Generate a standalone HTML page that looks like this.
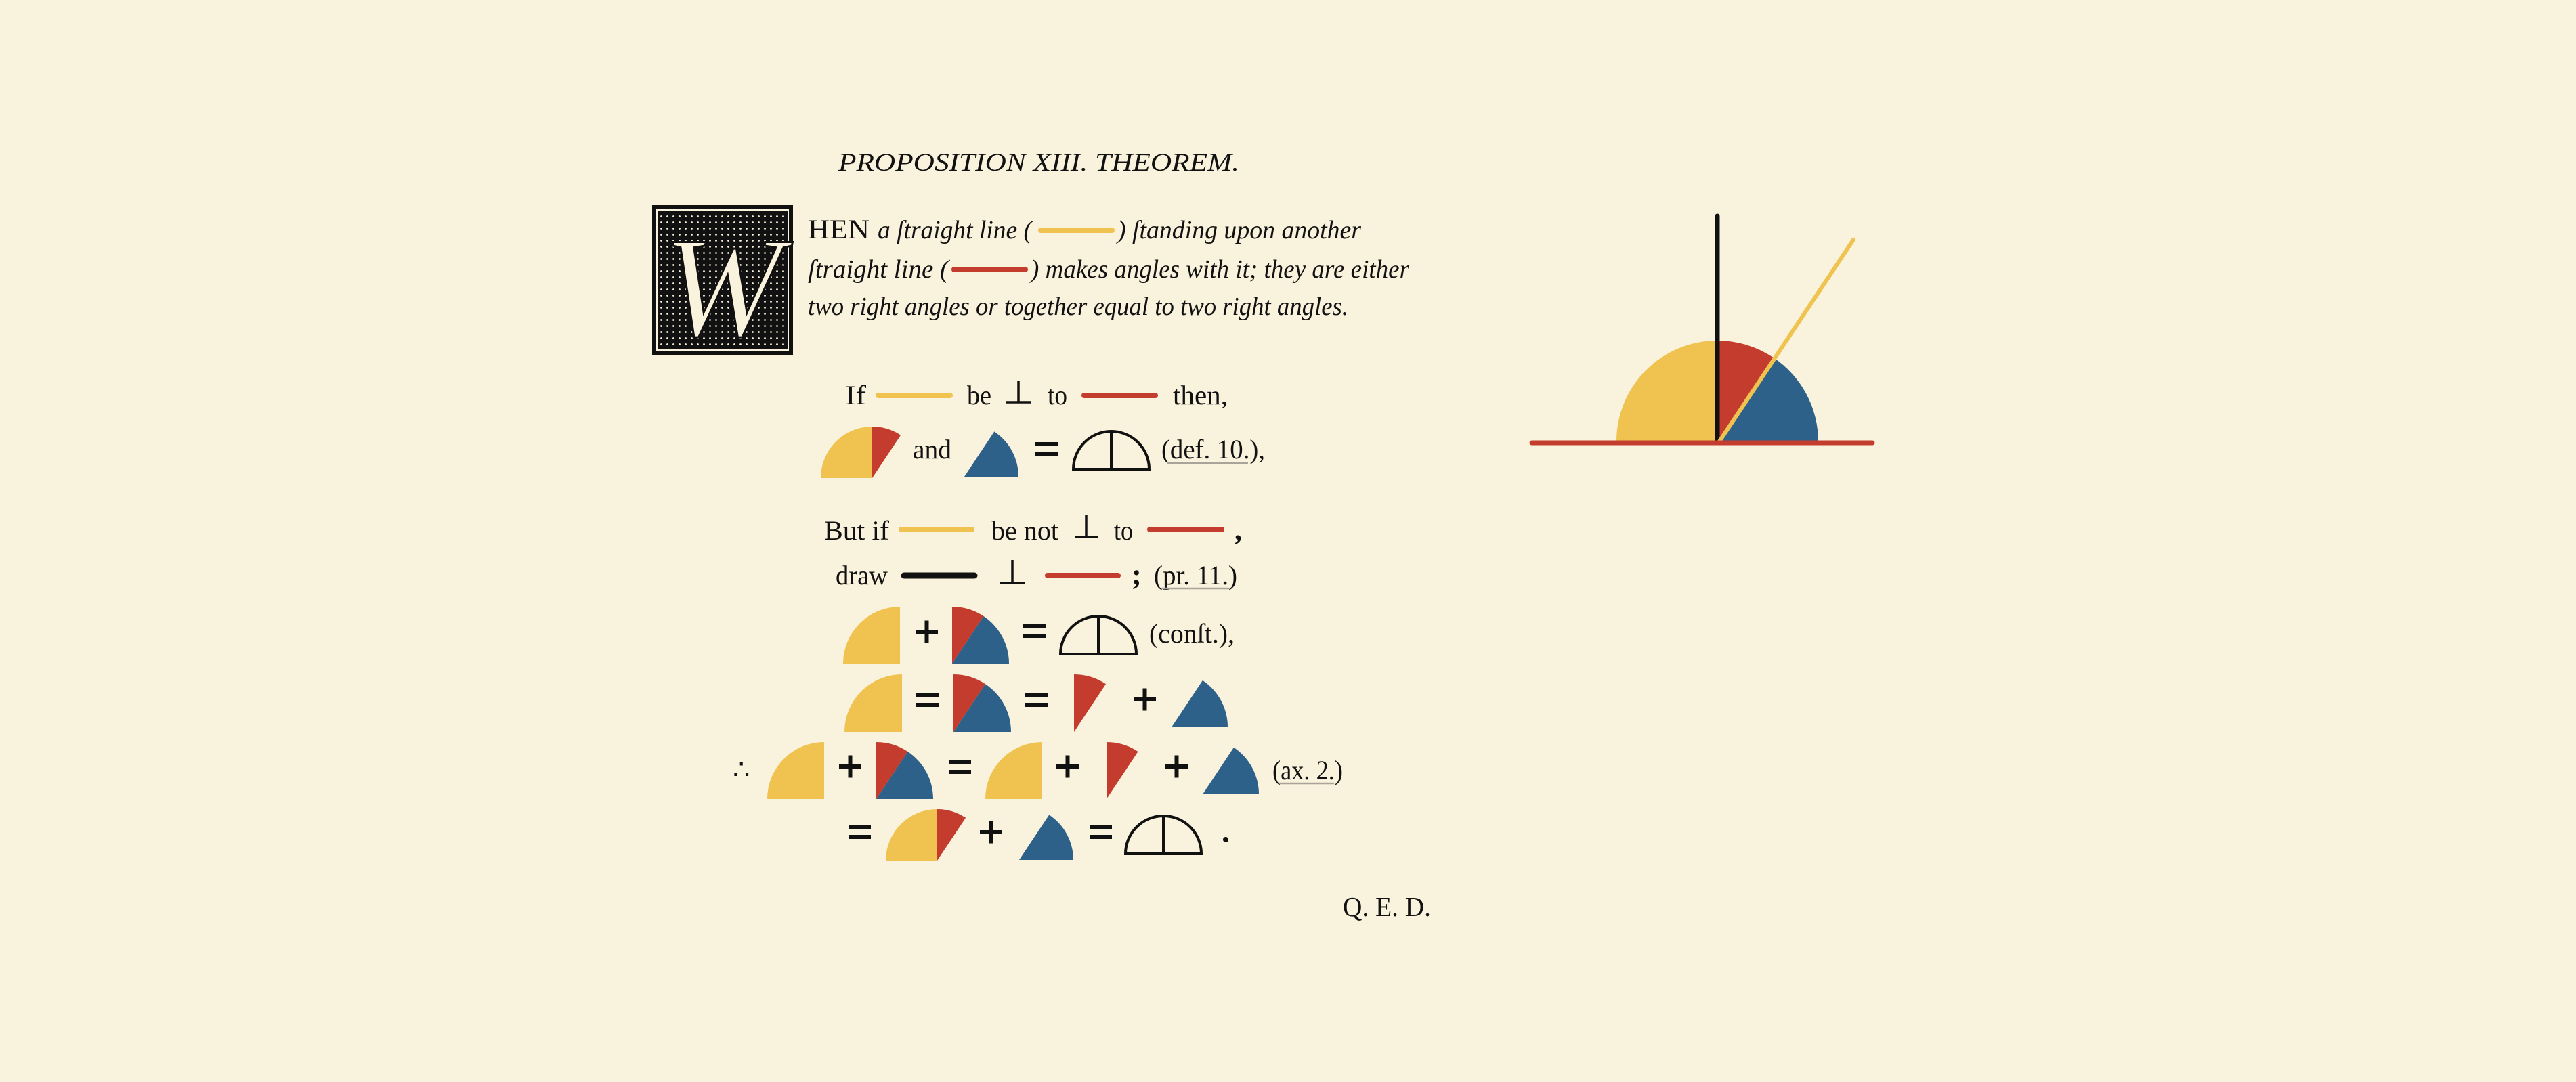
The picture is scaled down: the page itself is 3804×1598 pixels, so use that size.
<!DOCTYPE html>
<html><head><meta charset="utf-8"><style>
html,body{margin:0;padding:0;background:#f9f2dc;}
svg{display:block;}
text{font-family:"Liberation Serif",serif;fill:#111;}
.it{font-style:italic;}
</style></head><body>
<svg id="page" width="3804" height="1598" viewBox="0 0 3804 1598" xmlns="http://www.w3.org/2000/svg">
<defs>
<pattern id="dots" width="9" height="9" patternUnits="userSpaceOnUse"><circle cx="4.5" cy="4.5" r="1.4" fill="#f9f2dc"/></pattern>
</defs>
<rect width="3804" height="1598" fill="#f9f2dc"/>

<text class="it" x="1238" y="252" font-size="37" textLength="592" lengthAdjust="spacingAndGlyphs">PROPOSITION XIII. THEOREM.</text>

<g>
<rect x="963" y="303" width="208" height="221" fill="#111"/>
<rect x="970" y="310" width="194" height="207" fill="none" stroke="#f9f2dc" stroke-width="2"/>
<rect x="974" y="314" width="186" height="199" fill="url(#dots)"/>
<text x="1067" y="495" font-size="210" text-anchor="middle" style="fill:#f9f2dc;font-style:italic" stroke="#111" stroke-width="3">W</text>
</g>

<g>
<text x="1193" y="352" font-size="40" textLength="91" lengthAdjust="spacingAndGlyphs">HEN</text>
<text class="it" x="1296" y="352" font-size="38" textLength="228" lengthAdjust="spacingAndGlyphs">a ſtraight line (</text>
<line x1="1537" y1="340" x2="1642" y2="340" stroke="#f0c350" stroke-width="8" stroke-linecap="round"/>
<text class="it" x="1650" y="352" font-size="38" textLength="360" lengthAdjust="spacingAndGlyphs">) ſtanding upon another</text>
<text class="it" x="1193" y="410" font-size="38" textLength="208" lengthAdjust="spacingAndGlyphs">ſtraight line (</text>
<line x1="1409" y1="398" x2="1514" y2="398" stroke="#c33c2d" stroke-width="8" stroke-linecap="round"/>
<text class="it" x="1522" y="410" font-size="38" textLength="559" lengthAdjust="spacingAndGlyphs">) makes angles with it; they are either</text>
<text class="it" x="1193" y="465" font-size="38" textLength="798" lengthAdjust="spacingAndGlyphs">two right angles or together equal to two right angles.</text>
</g>

<g>
<text x="1248" y="597" font-size="40" textLength="31" lengthAdjust="spacingAndGlyphs">If</text>
<line x1="1297" y1="584" x2="1403" y2="584" stroke="#f0c350" stroke-width="8" stroke-linecap="round"/>
<text x="1428" y="597" font-size="40" textLength="36" lengthAdjust="spacingAndGlyphs">be</text>
<path d="M1504 562 V594 M1486 594 H1522" stroke="#111" stroke-width="3.5" fill="none"/>
<text x="1547" y="597" font-size="40" textLength="29" lengthAdjust="spacingAndGlyphs">to</text>
<line x1="1601" y1="584" x2="1706" y2="584" stroke="#c33c2d" stroke-width="8" stroke-linecap="round"/>
<text x="1732" y="597" font-size="40" textLength="81" lengthAdjust="spacingAndGlyphs">then,</text>
</g>
<g>
<text x="1348" y="677" font-size="40" textLength="57" lengthAdjust="spacingAndGlyphs">and</text>
<text x="1715" y="677" font-size="40" textLength="153" lengthAdjust="spacingAndGlyphs">(def. 10.),</text>
<line x1="1723" y1="684" x2="1843" y2="684" stroke="#aaa39a" stroke-width="2.5"/>
</g>
<g>
<text x="1217" y="797" font-size="40" textLength="96" lengthAdjust="spacingAndGlyphs">But if</text>
<line x1="1331" y1="782" x2="1435" y2="782" stroke="#f0c350" stroke-width="8" stroke-linecap="round"/>
<text x="1464" y="797" font-size="40" textLength="99" lengthAdjust="spacingAndGlyphs">be not</text>
<path d="M1604 761 V793 M1587 793 H1621" stroke="#111" stroke-width="3.5" fill="none"/>
<text x="1645" y="797" font-size="40" textLength="28" lengthAdjust="spacingAndGlyphs">to</text>
<line x1="1698" y1="782" x2="1804" y2="782" stroke="#c33c2d" stroke-width="8" stroke-linecap="round"/>
<text x="1823" y="797" font-size="44" font-weight="bold">,</text>
</g>
<g>
<text x="1234" y="863" font-size="40" textLength="77" lengthAdjust="spacingAndGlyphs">draw</text>
<line x1="1335" y1="850" x2="1439" y2="850" stroke="#111" stroke-width="9" stroke-linecap="round"/>
<path d="M1495 827 V861 M1477 861 H1513" stroke="#111" stroke-width="3.5" fill="none"/>
<line x1="1547" y1="850" x2="1651" y2="850" stroke="#c33c2d" stroke-width="8" stroke-linecap="round"/>
<text x="1671" y="863" font-size="44" font-weight="bold">;</text>
<text x="1704" y="863" font-size="40" textLength="123" lengthAdjust="spacingAndGlyphs">(pr. 11.)</text>
<line x1="1714" y1="869" x2="1815" y2="869" stroke="#aaa39a" stroke-width="2.5"/>
</g>
<text x="1697" y="949" font-size="40" textLength="126" lengthAdjust="spacingAndGlyphs">(conſt.),</text>
<text x="1082" y="1150" font-size="40">∴</text>
<g>
<text x="1879" y="1151" font-size="40" textLength="104" lengthAdjust="spacingAndGlyphs">(ax. 2.)</text>
<line x1="1889" y1="1157" x2="1970" y2="1157" stroke="#aaa39a" stroke-width="2.5"/>
</g>
<circle cx="1810" cy="1240" r="4" fill="#111"/>
<text x="1983" y="1353" font-size="41" textLength="130" lengthAdjust="spacingAndGlyphs">Q. E. D.</text>

<g id="icons"></g>

<g id="diagram"></g>
</svg>
<script>
// angle (deg) of the oblique line above the base line
const obliqueAngle = [56.4];
const YEL = '#f0c350', RED = '#c33c2d', BLU = '#2e6189';
const NS = 'http://www.w3.org/2000/svg';
const A = obliqueAngle[0];

function sectorPath(cx, cy, r, a0, a1) {
  const rad = d => d * Math.PI / 180;
  const x0 = cx + r * Math.cos(rad(a0)), y0 = cy - r * Math.sin(rad(a0));
  const x1 = cx + r * Math.cos(rad(a1)), y1 = cy - r * Math.sin(rad(a1));
  const large = (a1 - a0) > 180 ? 1 : 0;
  return `M${cx} ${cy} L${x0} ${y0} A${r} ${r} 0 ${large} 0 ${x1} ${y1} Z`;
}
function sector(parent, cx, cy, r, a0, a1, color) {
  const p = document.createElementNS(NS, 'path');
  p.setAttribute('d', sectorPath(cx, cy, r, a0, a1));
  p.setAttribute('fill', color);
  
  
  parent.appendChild(p);
  return p;
}
function line(parent, x1, y1, x2, y2, color, w) {
  const l = document.createElementNS(NS, 'line');
  l.setAttribute('x1', x1); l.setAttribute('y1', y1);
  l.setAttribute('x2', x2); l.setAttribute('y2', y2);
  l.setAttribute('stroke', color); l.setAttribute('stroke-width', w);
  l.setAttribute('stroke-linecap', 'round');
  
  
  parent.appendChild(l);
}
function rect(parent, x, y, w, h) {
  const r = document.createElementNS(NS, 'rect');
  r.setAttribute('x', x); r.setAttribute('y', y);
  r.setAttribute('width', w); r.setAttribute('height', h);
  r.setAttribute('fill', '#111');
  
  
  parent.appendChild(r);
}
const icons = document.getElementById('icons');
function yellowQ(x, y, r) { sector(icons, x, y, r, 90, 180, YEL); }
function redS(x, y, r) { sector(icons, x, y, r, A, 90, RED); }
function blueS(x, y, r) { sector(icons, x, y, r, 0, A, BLU); }
function redBlue(x, y, r) { redS(x, y, r); blueS(x, y, r); }
function semi(cx, cy, r) {
  const p = document.createElementNS(NS, 'path');
  p.setAttribute('d', `M${cx - r} ${cy} A${r} ${r} 0 0 1 ${cx + r} ${cy} Z M${cx} ${cy} V${cy - r}`);
  p.setAttribute('fill', 'none');
  p.setAttribute('stroke', '#111');
  p.setAttribute('stroke-width', '4');
  
  
  icons.appendChild(p);
}
function eq(x, cy) { rect(icons, x, cy - 10, 33, 6); rect(icons, x, cy + 4, 33, 6); }
function plus(x, cy) { rect(icons, x, cy - 3, 33, 6); rect(icons, x + 13.5, cy - 16.5, 6, 33); }

yellowQ(1288, 706, 76); redS(1288, 706, 76);
blueS(1424, 704, 80);
eq(1529, 663);
semi(1641, 693, 56);
yellowQ(1329, 980, 84); plus(1352, 933); redBlue(1406, 980, 84); eq(1511, 932); semi(1622, 966, 56);
yellowQ(1332, 1081, 85); eq(1353, 1034); redBlue(1408, 1081, 85); eq(1514, 1034);
redS(1586, 1081, 85); plus(1674, 1033); blueS(1730, 1074, 83);
yellowQ(1217, 1180, 84); plus(1239, 1132); redBlue(1294, 1180, 84); eq(1401, 1133);
yellowQ(1539, 1180, 84); plus(1560, 1132); redS(1634, 1180, 84); plus(1721, 1132); blueS(1776, 1173, 83);
eq(1253, 1229); yellowQ(1384, 1271, 76); redS(1384, 1271, 76); plus(1447, 1229);
blueS(1505, 1270, 80); eq(1609, 1229); semi(1718, 1261, 56);

const dg = document.getElementById('diagram');
const vx = 2536, vy = 652, R = 149;
sector(dg, vx, vy, R, 90, 180, YEL);
sector(dg, vx, vy, R, A, 90, RED);
sector(dg, vx, vy, R, 0, A, BLU);
line(dg, vx, vy, vx, 319, '#111', 7);
const L = 358;
line(dg, vx + 3, vy, vx + 3 + L * Math.cos(A * Math.PI / 180), vy - L * Math.sin(A * Math.PI / 180), YEL, 6);
line(dg, 2262, 654, 2765, 654, RED, 7);
</script>
</body></html>
